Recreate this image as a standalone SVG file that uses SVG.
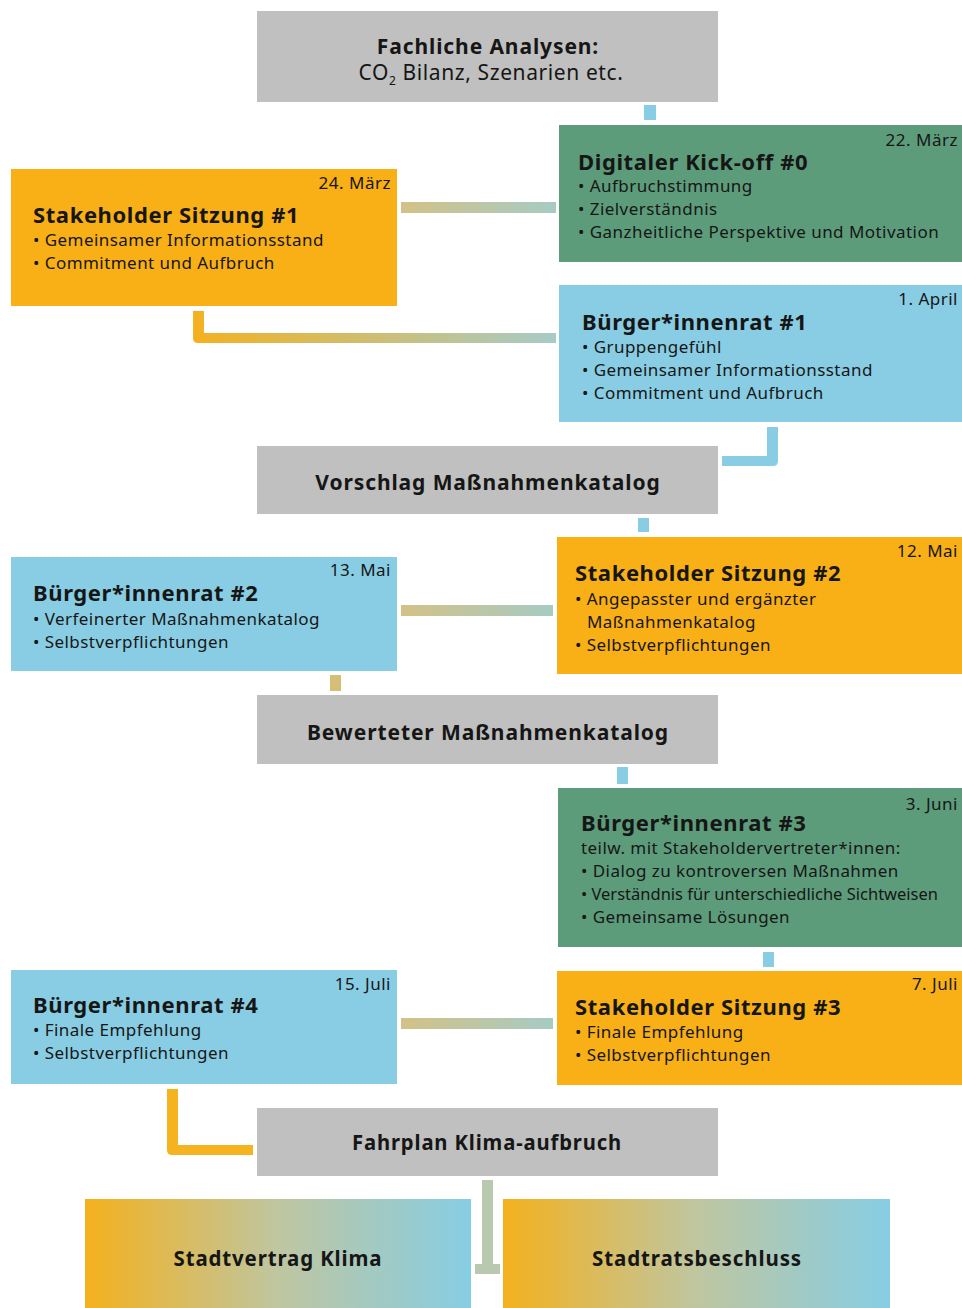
<svg xmlns="http://www.w3.org/2000/svg" width="962" height="1308" viewBox="0 0 962 1308">
<defs>
<style>
.gray{fill:#bfc0bf}
.orange{fill:#f8b016}
.blue{fill:#88cde3}
.green{fill:#5d9c7b}
text{font-family:"Noto Sans","Open Sans",sans-serif;fill:#161616}
.t{font-size:22px;font-weight:bold;letter-spacing:0.6px}
.b{font-size:17px;letter-spacing:0.45px}
.d{font-size:17px;text-anchor:end;letter-spacing:0.5px}
.c{font-size:21px;font-weight:bold;text-anchor:middle;letter-spacing:0.9px}
.cb{fill:#88cde3}
</style>
<linearGradient id="gh" x1="0" y1="0" x2="1" y2="0">
<stop offset="0" stop-color="#d3c186"/>
<stop offset="1" stop-color="#a6cbc4"/>
</linearGradient>
<linearGradient id="gL" gradientUnits="userSpaceOnUse" x1="193" y1="0" x2="556" y2="0">
<stop offset="0" stop-color="#f4b120"/>
<stop offset="1" stop-color="#a6cbc8"/>
</linearGradient>
<linearGradient id="gb" x1="0" y1="0" x2="1" y2="0">
<stop offset="0" stop-color="#f4b11e"/>
<stop offset="0.5" stop-color="#bfc6a0"/>
<stop offset="1" stop-color="#86cde4"/>
</linearGradient>
</defs>

<g id="connectors">
<rect x="644" y="105" width="12" height="15" class="cb"/>
<rect x="401" y="202" width="155" height="11" fill="url(#gh)"/>
<path d="M193,311 H204 V333 H556 V343 H198 Q193,343 193,338 Z" fill="url(#gL)"/>
<path d="M767,427 H778 V461 Q778,466 773,466 H722 V456 H767 Z" class="cb"/>
<rect x="638" y="518" width="11" height="14" class="cb"/>
<rect x="401" y="605" width="152" height="11" fill="url(#gh)"/>
<rect x="330" y="675" width="11" height="16" fill="#d4bf74"/>
<rect x="617" y="767" width="11" height="17" class="cb"/>
<rect x="763" y="952" width="11" height="15" class="cb"/>
<rect x="401" y="1018" width="152" height="11" fill="url(#gh)"/>
<path d="M167,1089 H178 V1145 H253 V1155 H172 Q167,1155 167,1150 Z" fill="#f6b320"/>
<rect x="482" y="1180" width="11" height="92" fill="#b9c9b0"/>
<rect x="475" y="1264" width="25" height="10" fill="#b9c9b0"/>
</g>

<g id="fachliche">
<rect x="257" y="11" width="461" height="91" class="gray"/>
<text x="488" y="54" class="c">Fachliche Analysen:</text>
<text x="491" y="80" font-size="21" text-anchor="middle" letter-spacing="0.6">CO<tspan font-size="12" dy="5">2</tspan><tspan dy="-5"> Bilanz, Szenarien etc.</tspan></text>
</g>

<g id="kickoff">
<rect x="559" y="125" width="403" height="137" class="green"/>
<text x="958" y="146" class="d">22. März</text>
<text x="578" y="170" class="t">Digitaler Kick-off #0</text>
<text x="578" y="192" class="b">• Aufbruchstimmung</text>
<text x="578" y="215" class="b">• Zielverständnis</text>
<text x="578" y="238" class="b">• Ganzheitliche Perspektive und Motivation</text>
</g>

<g id="stakeholder1">
<rect x="11" y="169" width="386" height="137" class="orange"/>
<text x="391" y="189" class="d">24. März</text>
<text x="33" y="223" class="t">Stakeholder Sitzung #1</text>
<text x="33" y="246" class="b">• Gemeinsamer Informationsstand</text>
<text x="33" y="269" class="b">• Commitment und Aufbruch</text>
</g>

<g id="buerger1">
<rect x="559" y="285" width="403" height="137" class="blue"/>
<text x="958" y="305" class="d">1. April</text>
<text x="582" y="330" class="t">Bürger*innenrat #1</text>
<text x="582" y="353" class="b">• Gruppengefühl</text>
<text x="582" y="376" class="b">• Gemeinsamer Informationsstand</text>
<text x="582" y="399" class="b">• Commitment und Aufbruch</text>
</g>

<g id="vorschlag">
<rect x="257" y="446" width="461" height="68" class="gray"/>
<text x="488" y="490" class="c">Vorschlag Maßnahmenkatalog</text>
</g>

<g id="stakeholder2">
<rect x="557" y="537" width="405" height="137" class="orange"/>
<text x="958" y="557" class="d">12. Mai</text>
<text x="575" y="581" class="t">Stakeholder Sitzung #2</text>
<text x="575" y="605" class="b">• Angepasster und ergänzter</text>
<text x="587" y="628" class="b">Maßnahmenkatalog</text>
<text x="575" y="651" class="b">• Selbstverpflichtungen</text>
</g>

<g id="buerger2">
<rect x="11" y="557" width="386" height="114" class="blue"/>
<text x="391" y="576" class="d">13. Mai</text>
<text x="33" y="601" class="t">Bürger*innenrat #2</text>
<text x="33" y="625" class="b">• Verfeinerter Maßnahmenkatalog</text>
<text x="33" y="648" class="b">• Selbstverpflichtungen</text>
</g>

<g id="bewerteter">
<rect x="257" y="695" width="461" height="69" class="gray"/>
<text x="488" y="740" class="c">Bewerteter Maßnahmenkatalog</text>
</g>

<g id="buerger3">
<rect x="558" y="788" width="404" height="159" class="green"/>
<text x="958" y="810" class="d">3. Juni</text>
<text x="581" y="831" class="t">Bürger*innenrat #3</text>
<text x="581" y="854" class="b">teilw. mit Stakeholdervertreter*innen:</text>
<text x="581" y="877" class="b">• Dialog zu kontroversen Maßnahmen</text>
<text x="581" y="900" font-size="16.5">• Verständnis für unterschiedliche Sichtweisen</text>
<text x="581" y="923" class="b">• Gemeinsame Lösungen</text>
</g>

<g id="stakeholder3">
<rect x="557" y="971" width="405" height="114" class="orange"/>
<text x="958" y="990" class="d">7. Juli</text>
<text x="575" y="1015" class="t">Stakeholder Sitzung #3</text>
<text x="575" y="1038" class="b">• Finale Empfehlung</text>
<text x="575" y="1061" class="b">• Selbstverpflichtungen</text>
</g>

<g id="buerger4">
<rect x="11" y="970" width="386" height="114" class="blue"/>
<text x="391" y="990" class="d">15. Juli</text>
<text x="33" y="1013" class="t">Bürger*innenrat #4</text>
<text x="33" y="1036" class="b">• Finale Empfehlung</text>
<text x="33" y="1059" class="b">• Selbstverpflichtungen</text>
</g>

<g id="fahrplan">
<rect x="257" y="1108" width="461" height="68" class="gray"/>
<text x="487" y="1150" class="c" letter-spacing="0" textLength="270" lengthAdjust="spacingAndGlyphs">Fahrplan Klima-aufbruch</text>
</g>

<g id="stadtvertrag">
<rect x="85" y="1199" width="386" height="109" fill="url(#gb)"/>
<text x="278" y="1266" class="c" letter-spacing="0" textLength="209" lengthAdjust="spacingAndGlyphs">Stadtvertrag Klima</text>
</g>

<g id="stadtrat">
<rect x="503" y="1199" width="387" height="109" fill="url(#gb)"/>
<text x="697" y="1266" class="c" letter-spacing="0" textLength="210" lengthAdjust="spacingAndGlyphs">Stadtratsbeschluss</text>
</g>
</svg>
